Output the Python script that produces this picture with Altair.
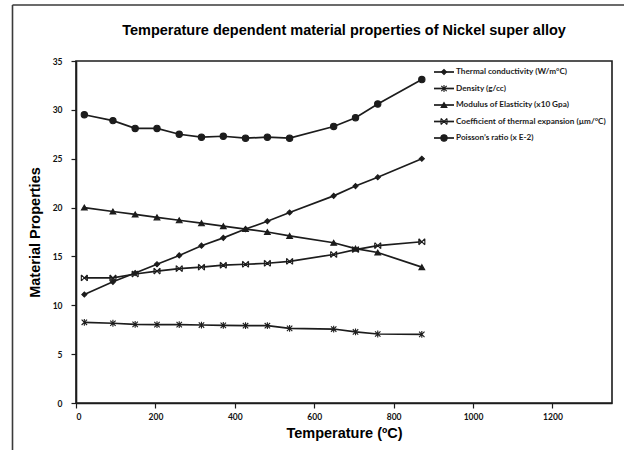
import altair as alt
import pandas as pd

# Temperatures (°C) at which properties were tabulated
temps = [21, 93, 149, 204, 260, 316, 371, 427, 482, 538, 649, 704, 760, 871]

thermal_conductivity = [11.1, 12.4, 13.3, 14.2, 15.1, 16.1, 16.9, 17.8, 18.6, 19.5, 21.2, 22.2, 23.1, 25.0]
density = [8.26, 8.16, 8.05, 8.02, 8.02, 7.98, 7.95, 7.91, 7.91, 7.64, 7.57, 7.27, 7.06, 7.03]
modulus = [20.0, 19.6, 19.3, 19.0, 18.7, 18.4, 18.1, 17.8, 17.5, 17.1, 16.4, 15.8, 15.4, 13.9]
cte = [12.8, 12.8, 13.2, 13.5, 13.75, 13.9, 14.1, 14.2, 14.3, 14.5, 15.2, 15.7, 16.1, 16.5]
poisson = [29.5, 28.9, 28.1, 28.1, 27.5, 27.2, 27.3, 27.1, 27.2, 27.1, 28.3, 29.2, 30.6, 33.1]

series_names = [
    "Thermal conductivity (W/m°C)",
    "Density (g/cc)",
    "Modulus of Elasticity (x10 Gpa)",
    "Coefficient of thermal expansion (µm/°C)",
    "Poisson\u2019s ratio (x E-2)",
]
series_values = [thermal_conductivity, density, modulus, cte, poisson]

title_text = ["Temperature dependent material properties of Nickel super alloy"]

x_ticks = [0, 200, 400, 600, 800, 1000, 1200]
y_ticks = [0, 5, 10, 15, 20, 25, 30, 35]

# marker styling per series
asterisk = "M-1,-1L1,1M-1,1L1,-1M0,-1.25L0,1.25"
x_mark = "M-1,-1L1,1M-1,1L1,-1M-1,-1L-1,1M1,-1L1,1"
shapes = ["diamond", asterisk, "triangle-up", x_mark, "circle"]
sizes = [26, 40, 34, 36, 90]
widths = [1.7, 1.7, 1.7, 1.7, 2.4]

rows = []
for name, vals in zip(series_names, series_values):
    for t, v in zip(temps, vals):
        rows.append({"series": name, "temp": t, "value": v})
df = pd.DataFrame(rows)
legend_df = pd.DataFrame({"series": series_names})

INK = "#1c1c1c"
TICK_FONT = "Lato"
HEAD_FONT = "Liberation Sans"

shape_scale = alt.Scale(domain=series_names, range=shapes)
size_scale = alt.Scale(domain=series_names, range=sizes)
width_scale = alt.Scale(domain=series_names, range=widths)

x_enc = alt.X(
    "temp:Q",
    scale=alt.Scale(domain=[0, 1350], nice=False),
    axis=alt.Axis(values=x_ticks, title="Temperature (ºC)", format="d"),
)
y_enc = alt.Y(
    "value:Q",
    scale=alt.Scale(domain=[0, 35], nice=False),
    axis=alt.Axis(values=y_ticks, title="Material Properties"),
)

lines = alt.Chart(df).mark_line(color=INK).encode(
    x=x_enc,
    y=y_enc,
    detail="series:N",
    strokeWidth=alt.StrokeWidth("series:N", scale=width_scale, legend=None),
)

points = alt.Chart(df).mark_point(
    filled=True, fill=INK, stroke=INK, strokeWidth=1.1, opacity=1
).encode(
    x="temp:Q",
    y="value:Q",
    shape=alt.Shape("series:N", scale=shape_scale, legend=None),
    size=alt.Size("series:N", scale=size_scale, legend=None),
)

plot = alt.layer(lines, points)

# hand-laid legend in the upper right of the plot
leg_y = alt.Y(
    "series:N",
    scale=alt.Scale(type="point", domain=series_names, range=[11, 77], padding=0),
    axis=None,
)
leg_lines = alt.Chart(legend_df).mark_rule(color=INK).encode(
    x=alt.value(358),
    x2=alt.value(378),
    y=leg_y,
    strokeWidth=alt.StrokeWidth("series:N", scale=width_scale, legend=None),
)
leg_points = alt.Chart(legend_df).mark_point(
    filled=True, fill=INK, stroke=INK, strokeWidth=1.1, opacity=1
).encode(
    x=alt.value(368),
    y=leg_y,
    shape=alt.Shape("series:N", scale=shape_scale, legend=None),
    size=alt.Size("series:N", scale=size_scale, legend=None),
)
leg_text = alt.Chart(legend_df).mark_text(
    align="left", baseline="middle", font=TICK_FONT, fontWeight="bold",
    fontSize=8.2, color=INK,
).encode(
    x=alt.value(380),
    y=leg_y,
    text="series:N",
)
legend = alt.layer(leg_lines, leg_points, leg_text)

# chart heading, centred over the plot
heading = alt.Chart(pd.DataFrame({"t": title_text})).mark_text(
    align="center", baseline="middle", font=HEAD_FONT, fontWeight="bold",
    fontSize=14.5, color="#000000",
).encode(x=alt.value(268), y=alt.value(-30), text="t:N")

# outer chart frame (runs off the right and bottom of the canvas)
one_row = alt.Data(values=[{"k": 1}])
frame_top = alt.Chart(one_row).mark_rule(color="#3a3a3a", strokeWidth=1.6).encode(
    x=alt.value(-63.5), x2=alt.value(620), y=alt.value(-56)
)
frame_left = alt.Chart(one_row).mark_rule(color="#3a3a3a", strokeWidth=1.6).encode(
    x=alt.value(-63.5), y=alt.value(-56), y2=alt.value(440)
)

chart = (
    alt.layer(plot, legend, heading, frame_top, frame_left)
    .resolve_scale(y="independent")
    .properties(
        width=536,
        height=342,
        autosize=alt.AutoSizeParams(type="none"),
        padding={"left": 76, "top": 61, "right": 12, "bottom": 47},
    )
    .configure_view(stroke=INK, strokeWidth=1.6)
    .configure_axis(
        grid=False,
        domainColor=INK,
        domainWidth=1.6,
        tickColor=INK,
        tickSize=5,
        tickWidth=1.2,
        labelFont=TICK_FONT,
        labelFontWeight="bold",
        labelFontSize=8.5,
        labelColor="#111111",
        titleFont=HEAD_FONT,
        titleFontWeight="bold",
        titleFontSize=14.5,
        titleColor="#000000",
    )
    .configure_axisX(labelPadding=4, titlePadding=6)
    .configure_axisY(labelPadding=9, titlePadding=10)
)

chart.save("out.html", embed_options={"renderer": "svg", "actions": False})
